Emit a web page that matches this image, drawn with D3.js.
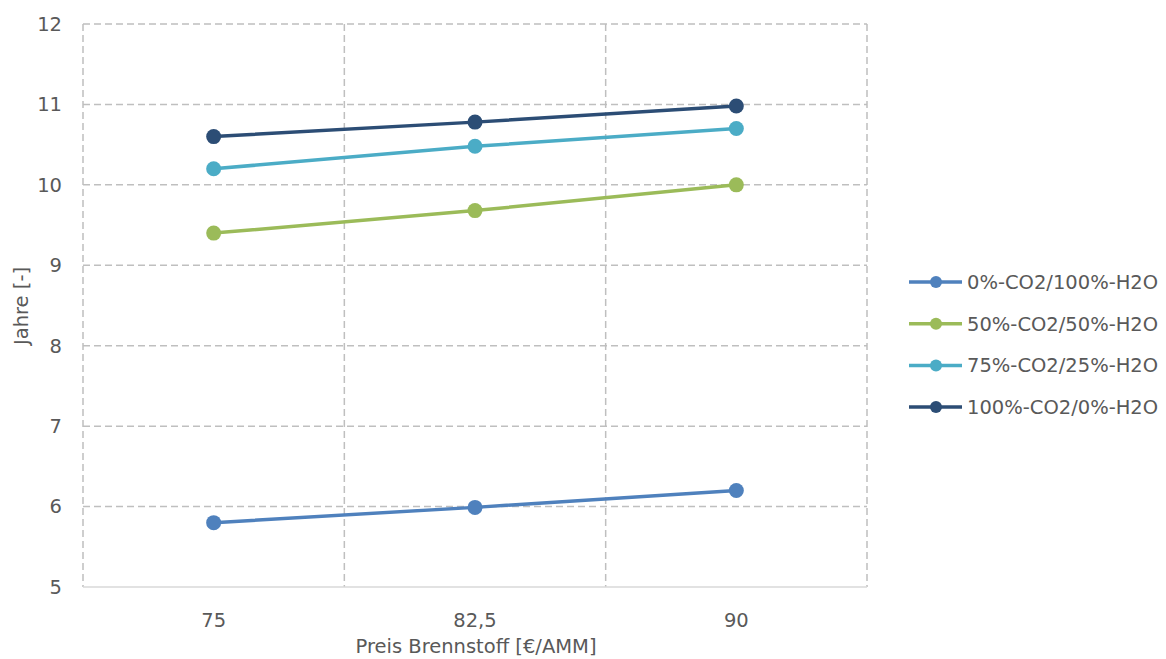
<!DOCTYPE html>
<html><head><meta charset="utf-8">
<script src="https://cdn.jsdelivr.net/npm/d3@7"></script>
<style>
body{margin:0;background:#fff;}
text{font-family:"DejaVu Sans",Verdana,sans-serif;fill:#595959;}
</style></head>
<body><svg id="c" width="1166" height="659"></svg>
<script>
const categories = ["75", "82,5", "90"];
const seriesNames = ["0%-CO2/100%-H2O", "50%-CO2/50%-H2O", "75%-CO2/25%-H2O", "100%-CO2/0%-H2O"];
const s0 = [5.8, 5.99, 6.2];
const s50 = [9.4, 9.68, 10.0];
const s75 = [10.2, 10.48, 10.7];
const s100 = [10.6, 10.78, 10.98];
const yTicks = [5, 6, 7, 8, 9, 10, 11, 12];
const colors = ["#4F81BD", "#9BBB59", "#4BACC6", "#2C4D75"];
const allSeries = [s0, s50, s75, s100];

const svg = d3.select("#c");
const L = 83, R = 867, T = 24, B = 587;
const FS = 19.5;
const x = d3.scaleBand().domain(categories).range([L, R]);
const y = d3.scaleLinear().domain([5, 12]).range([B, T]);

// horizontal grid
svg.append("g").selectAll("line").data(yTicks.filter(d => d > 5)).join("line")
  .attr("x1", L).attr("x2", R).attr("y1", d => y(d)).attr("y2", d => y(d))
  .attr("stroke", "#BFBFBF").attr("stroke-width", 1.5).attr("stroke-dasharray", "7,4");
// vertical grid at band boundaries
const vb = [L, ...categories.slice(1).map(c => x(c)), R];
svg.append("g").selectAll("line").data(vb).join("line")
  .attr("x1", d => d).attr("x2", d => d).attr("y1", T).attr("y2", B)
  .attr("stroke", "#BFBFBF").attr("stroke-width", 1.5).attr("stroke-dasharray", "7,4");
// x axis line
svg.append("line").attr("x1", L).attr("x2", R).attr("y1", B).attr("y2", B)
  .attr("stroke", "#D9D9D9").attr("stroke-width", 1.5);

// y tick labels
svg.append("g").selectAll("text").data(yTicks).join("text")
  .attr("x", 62).attr("y", d => y(d)).attr("dy", "0.35em")
  .attr("text-anchor", "end").attr("font-size", FS).text(d => d);
// x tick labels
svg.append("g").selectAll("text").data(categories).join("text")
  .attr("x", d => x(d) + x.bandwidth() / 2).attr("y", 627)
  .attr("text-anchor", "middle").attr("font-size", FS).text(d => d);

// axis titles
svg.append("text").attr("x", 476).attr("y", 653).attr("text-anchor", "middle")
  .attr("font-size", FS).text("Preis Brennstoff [€/AMM]");
svg.append("text").attr("transform", "translate(28,306) rotate(-90)")
  .attr("text-anchor", "middle").attr("font-size", FS).text("Jahre [-]");

// lines
const line = d3.line().x((d, i) => x(categories[i]) + x.bandwidth() / 2).y(d => y(d));
allSeries.forEach((s, k) => {
  const g = svg.append("g");
  g.append("path").datum(s).attr("d", line).attr("fill", "none")
    .attr("stroke", colors[k]).attr("stroke-width", 3.5);
  g.selectAll("circle").data(s).join("circle")
    .attr("cx", (d, i) => x(categories[i]) + x.bandwidth() / 2).attr("cy", d => y(d))
    .attr("r", 7.5).attr("fill", colors[k]);
});

// legend
const lg = svg.append("g");
seriesNames.forEach((n, k) => {
  const ly = 282 + k * 41.7;
  lg.append("line").attr("x1", 909).attr("x2", 962).attr("y1", ly).attr("y2", ly)
    .attr("stroke", colors[k]).attr("stroke-width", 3.5);
  lg.append("circle").attr("cx", 936).attr("cy", ly).attr("r", 6).attr("fill", colors[k]);
  lg.append("text").attr("x", 967).attr("y", ly).attr("dy", "0.35em")
    .attr("font-size", FS).text(n);
});
</script></body></html>
